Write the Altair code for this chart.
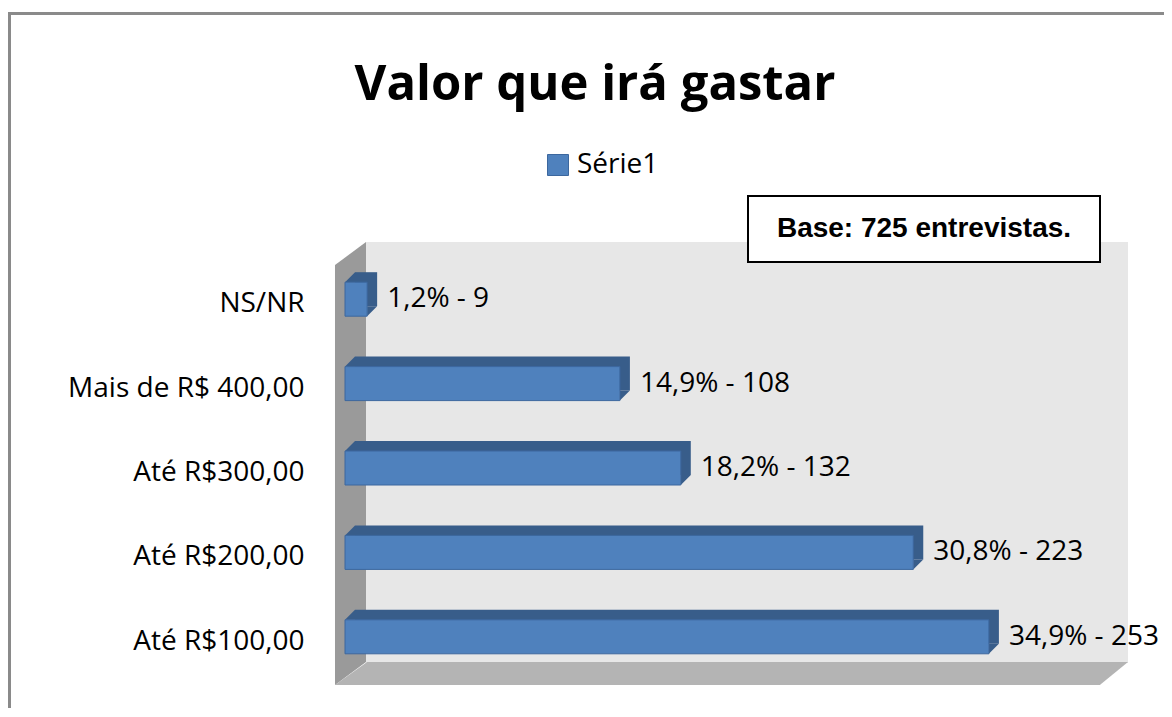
import altair as alt
import pandas as pd

# ---- data ----
categorias = ["NS/NR", "Mais de R$ 400,00", "Até R$300,00", "Até R$200,00", "Até R$100,00"]
percentuais = [1.2, 14.9, 18.2, 30.8, 34.9]
quantidades = [9, 108, 132, 223, 253]
serie = ["Série1"] * 5

rotulos = [f"{p:.1f}".replace(".", ",") + "% - " + str(q) for p, q in zip(percentuais, quantidades)]
df = pd.DataFrame({"categoria": categorias, "valor": percentuais, "rotulo": rotulos, "serie": serie})

FONT = "Open Sans"
FRONT = "#4f81bd"
DARK = "#385d8a"
BAR_H = 34
DEPTH = 10

one = alt.Data(values=[{}])

y_enc = alt.Y("categoria:N", sort=categorias,
              scale=alt.Scale(paddingInner=0, paddingOuter=0),
              axis=alt.Axis(title=None, ticks=False, domain=False, labelPadding=41,
                            labelFont=FONT, labelFontSize=28, labelColor="#000000",
                            labelOffset=5, labelLimit=400))
x_enc = alt.X("valor:Q", scale=alt.Scale(domain=[0, 40]), axis=None)

# outer frame
frame = alt.Chart(one).mark_rect(fill="transparent", stroke="#8a8a8a", strokeWidth=3).encode(
    x=alt.value(-335.5), x2=alt.value(1000), y=alt.value(-243.5), y2=alt.value(800))

# back wall
wall = alt.Chart(one).mark_rect(color="#e7e7e7").encode(
    x=alt.value(21), x2=alt.value(783), y=alt.value(-15), y2=alt.value(406))

# floor (parallelogram)
floor = alt.Chart(one).mark_point(
    shape="M-1,0.029L0.929,0.029L1,-0.029L-0.919,-0.029Z",
    filled=True, opacity=1, color="#b4b4b4", size=793 * 793).encode(
    x=alt.value(386.5), y=alt.value(416.5))

# left wall (parallelogram)
leftwall = alt.Chart(one).mark_point(
    shape="M-0.07,-0.896L0.07,-1L0.07,0.896L-0.07,1Z",
    filled=True, opacity=1, color="#9a9a9a", size=443 * 443).encode(
    x=alt.value(5.5), y=alt.value(206.5))

base = alt.Chart(df)

depth_bars = base.mark_bar(size=BAR_H, xOffset=DEPTH, yOffset=-DEPTH, color=DARK).encode(
    x=x_enc, y=y_enc)

tri_left = base.mark_point(shape="M-1,1L1,1L1,-1Z", filled=True, opacity=1, color=DARK,
                           size=DEPTH * DEPTH, xOffset=DEPTH / 2,
                           yOffset=-(BAR_H / 2 + DEPTH / 2)).encode(
    x=alt.value(0), y=y_enc)

tri_right = base.mark_point(shape="M-1,1L-1,-1L1,-1Z", filled=True, opacity=1, color=DARK,
                            size=DEPTH * DEPTH, xOffset=DEPTH / 2,
                            yOffset=BAR_H / 2 - DEPTH / 2).encode(
    x=x_enc, y=y_enc)

front = base.mark_bar(size=BAR_H, stroke="#3c679e", strokeWidth=1).encode(
    x=x_enc, y=y_enc,
    color=alt.Color("serie:N", scale=alt.Scale(range=[FRONT]),
                    legend=alt.Legend(title=None, orient="none", legendX=199, legendY=-106,
                                      symbolType="square", symbolSize=441,
                                      symbolStrokeColor="#3c679e", symbolStrokeWidth=1,
                                      labelFont=FONT, labelFontSize=28, labelColor="#000000",
                                      labelOffset=5)))

labels = base.mark_text(align="left", baseline="middle", dx=20, font=FONT, fontSize=28,
                        color="#000000").encode(x=x_enc, y=y_enc, text="rotulo:N")

title = alt.Chart(one).mark_text(text="Valor que irá gastar", font=FONT, fontSize=49,
                                 fontWeight="bold", align="center", baseline="alphabetic",
                                 color="#000000").encode(x=alt.value(250), y=alt.value(-157))

box = alt.Chart(one).mark_rect(fill="#ffffff", stroke="#000000", strokeWidth=2).encode(
    x=alt.value(403), x2=alt.value(755), y=alt.value(-61), y2=alt.value(5))

box_text = alt.Chart(one).mark_text(text="Base: 725 entrevistas.", font="Liberation Sans",
                                    fontSize=28, fontWeight="bold", align="center",
                                    baseline="middle", color="#000000").encode(
    x=alt.value(579), y=alt.value(-28))

chart = alt.layer(frame, wall, floor, leftwall, depth_bars, tri_left, tri_right, front,
                  labels, title, box, box_text).properties(
    width=738, height=422,
    autosize=alt.AutoSizeParams(type="none"),
    padding={"left": 337, "top": 249, "right": 81, "bottom": 29},
    background="#ffffff",
).configure_view(stroke=None)

chart.save("out.html", embed_options={"renderer": "svg", "actions": False})
